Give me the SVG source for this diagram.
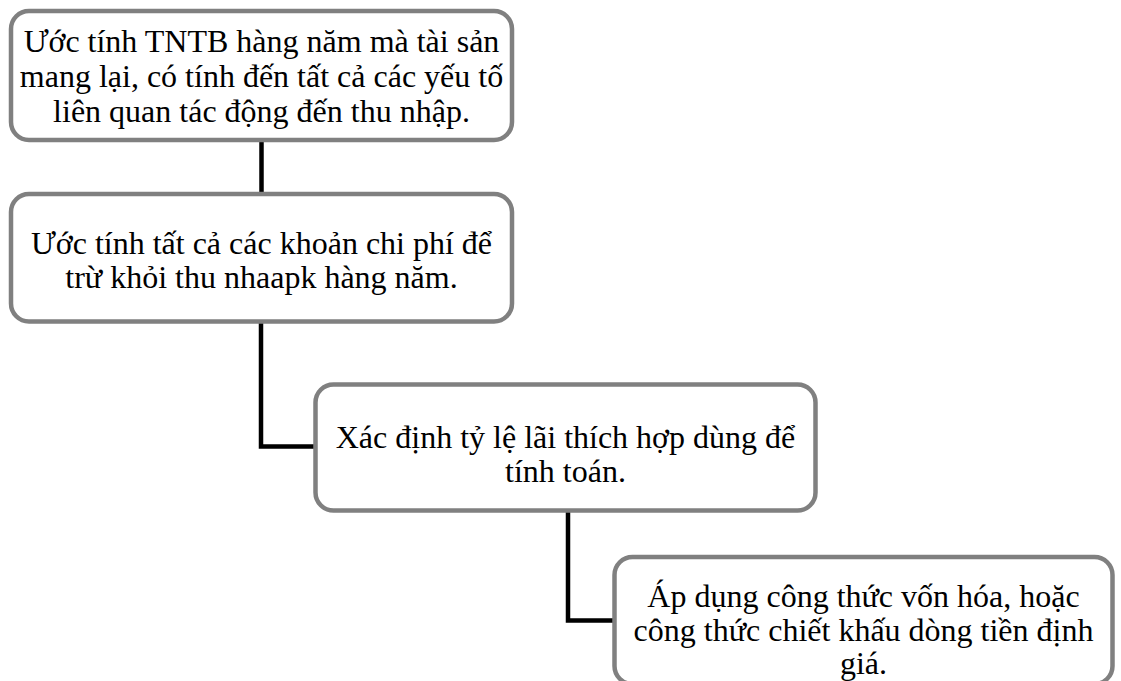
<svg xmlns="http://www.w3.org/2000/svg" width="1121" height="681" viewBox="0 0 1121 681">
<style>
.box{fill:#ffffff;stroke:#808080;stroke-width:4.5}
.conn{fill:none;stroke:#000000;stroke-width:4.5;stroke-linejoin:miter}
.t{font-family:"Liberation Serif","Times New Roman",serif;font-size:32px;fill:#000000;text-anchor:middle}
</style>
<rect width="1121" height="681" fill="#ffffff"/>
<g id="connectors">
<path class="conn" d="M261.5 140 V194"/>
<path class="conn" d="M261 321.5 V446.5 H315.5"/>
<path class="conn" d="M568 510.5 V620.5 H614.5"/>
</g>
<g id="node1">
<rect class="box" x="11" y="11" width="501" height="129" rx="18" ry="18"/>
<text class="t" x="261.5" y="52">Ước tính TNTB hàng năm mà tài sản</text>
<text class="t" x="261.5" y="87">mang lại, có tính đến tất cả các yếu tố</text>
<text class="t" x="261.5" y="122">liên quan tác động đến thu nhập.</text>
</g>
<g id="node2">
<rect class="box" x="11" y="194" width="501" height="127.5" rx="18" ry="18"/>
<text class="t" x="261.5" y="254">Ước tính tất cả các khoản chi phí để</text>
<text class="t" x="261.5" y="288">trừ khỏi thu nhaapk hàng năm.</text>
</g>
<g id="node3">
<rect class="box" x="315.5" y="384.5" width="500" height="126" rx="18" ry="18"/>
<text class="t" x="565.5" y="448">Xác định tỷ lệ lãi thích hợp dùng để</text>
<text class="t" x="565.5" y="482">tính toán.</text>
</g>
<g id="node4">
<rect class="box" x="614.5" y="557" width="498" height="127" rx="18" ry="18"/>
<text class="t" x="863.5" y="607">Áp dụng công thức vốn hóa, hoặc</text>
<text class="t" x="863.5" y="641">công thức chiết khấu dòng tiền định</text>
<text class="t" x="863.5" y="674">giá.</text>
</g>
</svg>
